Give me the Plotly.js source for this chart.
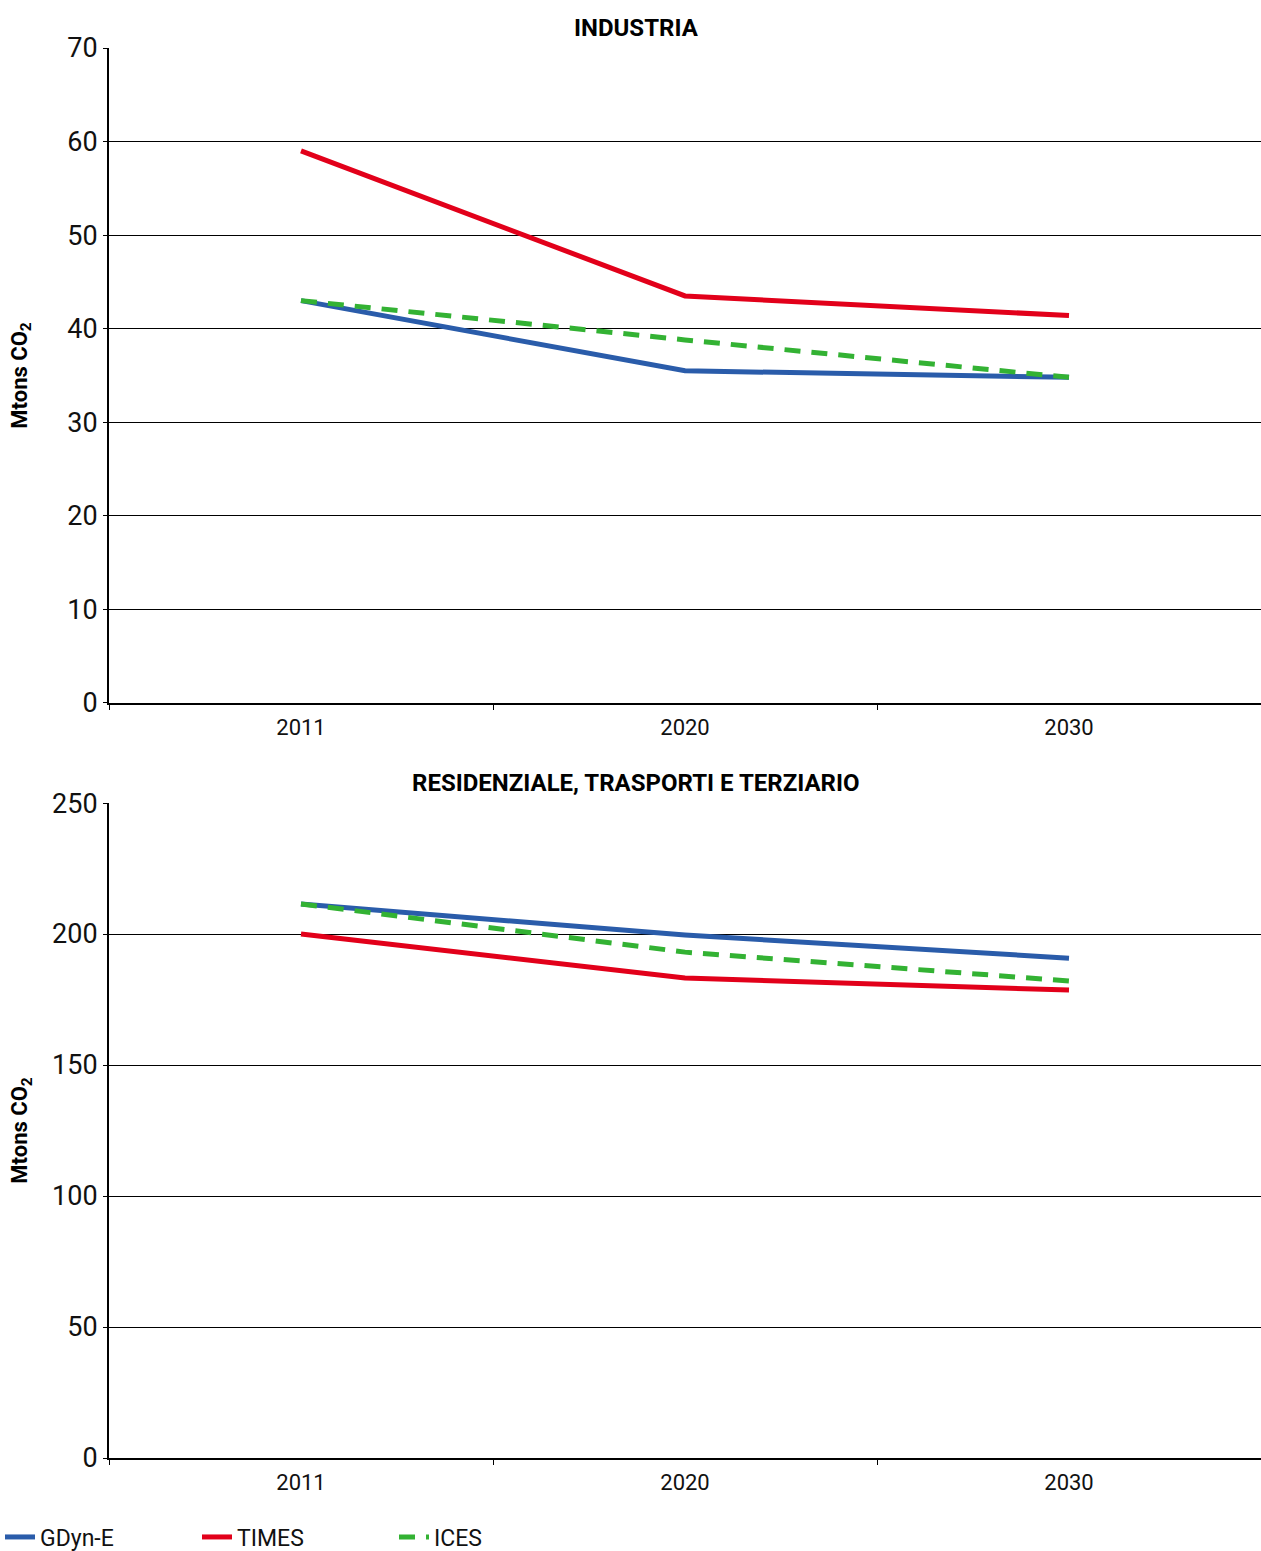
<!DOCTYPE html>
<html>
<head>
<meta charset="utf-8">
<script src="https://cdn.plot.ly/plotly-3.0.1.min.js"></script>
<style>html,body{margin:0;padding:0;background:#fff;}#chart{width:1261px;height:1551px;}</style>
</head>
<body>
<div id="chart"></div>
<script>
const years = ["2011", "2020", "2030"];
const industriaGDyn = [43.0, 35.5, 34.8];
const industriaTIMES = [59.0, 43.5, 41.4];
const industriaICES = [43.0, 38.8, 34.8];
const residGDyn = [211.5, 199.6, 190.8];
const residTIMES = [200.0, 183.2, 178.6];
const residICES = [211.5, 193.1, 182.1];
const seriesNames = ["GDyn-E", "TIMES", "ICES"];
const panelTitles = ["INDUSTRIA", "RESIDENZIALE, TRASPORTI E TERZIARIO"];

const FONT = 'Roboto, sans-serif';
const colors = {"GDyn-E": "#2a5caa", "TIMES": "#e2001a", "ICES": "#33b233"};
const dashes = {"GDyn-E": "solid", "TIMES": "solid", "ICES": "16px,11px"};

function tr(name, y, xa, ya, show) {
  return {
    x: years, y: y, name: name, type: "scatter", mode: "lines",
    xaxis: xa, yaxis: ya, showlegend: show,
    line: {color: colors[name], width: 5, dash: dashes[name]},
    hoverinfo: "skip"
  };
}

const data = [
  tr("GDyn-E", industriaGDyn, "x", "y", true),
  tr("TIMES", industriaTIMES, "x", "y", true),
  tr("ICES", industriaICES, "x", "y", true),
  tr("GDyn-E", residGDyn, "x2", "y2", false),
  tr("TIMES", residTIMES, "x2", "y2", false),
  tr("ICES", residICES, "x2", "y2", false)
];

const xCommon = {
  type: "category", range: [-0.5, 2.5], showgrid: false, zeroline: false,
  showline: true, linecolor: "#000", linewidth: 2,
  ticks: "outside", tickson: "boundaries", ticklen: 5, tickwidth: 1, tickcolor: "#000",
  tickfont: {family: FONT, size: 22, color: "#111"}, ticklabelstandoff: 4, fixedrange: true
};
const yCommon = {
  showgrid: true, gridcolor: "#000", gridwidth: 1, zeroline: false,
  showline: true, linecolor: "#000", linewidth: 2,
  ticks: "outside", ticklen: 4, tickwidth: 1, tickcolor: "#000",
  tickfont: {family: FONT, size: 27, color: "#111"}, fixedrange: true
};
const ytitle = (standoff) => ({
  text: "Mtons CO<sub>2</sub>",
  font: {family: FONT, size: 22, color: "#000", weight: "bold"},
  standoff: standoff
});

const layout = {
  width: 1261, height: 1551,
  margin: {l: 109, r: 0, t: 48, b: 93},
  paper_bgcolor: "#fff", plot_bgcolor: "#fff",
  font: {family: FONT, color: "#111"},
  xaxis: Object.assign({}, xCommon, {domain: [0, 1], anchor: "y"}),
  yaxis: Object.assign({}, yCommon, {domain: [0.5355, 1], range: [0, 70], dtick: 10, anchor: "x",
    title: ytitle(34)}),
  xaxis2: Object.assign({}, xCommon, {domain: [0, 1], anchor: "y2"}),
  yaxis2: Object.assign({}, yCommon, {domain: [0, 0.4645], range: [0, 250], dtick: 50, anchor: "x2",
    title: ytitle(18)}),
  showlegend: true,
  legend: {
    orientation: "h", xref: "container", yref: "container",
    x: 0, y: 14 / 1551, xanchor: "left", yanchor: "middle",
    font: {family: FONT, size: 23, color: "#111"},
    entrywidth: 152, entrywidthmode: "pixels", itemwidth: 30,
    bgcolor: "rgba(0,0,0,0)"
  },
  annotations: [
    {text: "<b>" + panelTitles[0] + "</b>", xref: "paper", yref: "paper",
     x: (636 - 109) / 1152, y: (1458 - 28) / 1410, xanchor: "center", yanchor: "middle",
     showarrow: false, font: {family: FONT, size: 24, color: "#000"}},
    {text: "<b>" + panelTitles[1] + "</b>", xref: "paper", yref: "paper",
     x: (636 - 109) / 1152, y: (1458 - 783) / 1410, xanchor: "center", yanchor: "middle",
     showarrow: false, font: {family: FONT, size: 24, color: "#000"}}
  ]
};

Plotly.newPlot("chart", data, layout, {staticPlot: true, displayModeBar: false});
</script>
</body>
</html>
